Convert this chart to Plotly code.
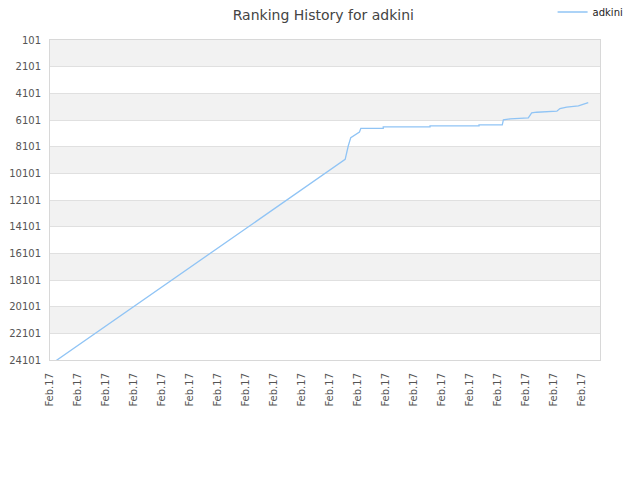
import plotly.graph_objects as go

# data (x = sample index, y = rank)
x_idx = [2, 100, 105.4, 106.5, 107.4, 110.5, 111, 119, 119, 135.7, 135.7, 153.2, 153.2,
         161.5, 161.9, 164.3, 170.8, 172, 173.8, 181, 182.1, 184.5, 188.7, 192.2]
ranks = [24174, 9860, 9055, 8050, 7422, 7000, 6722, 6722, 6622, 6622, 6546, 6546, 6470,
         6470, 6094, 6020, 5944, 5567, 5518, 5443, 5240, 5140, 5040, 4790]
tick_pos = [0, 10, 20, 30, 40, 50, 60, 70, 80, 90, 100, 110, 120, 130, 140, 150, 160, 170, 180, 190]
tick_text = ["Feb.17"] * 20
y_ticks = [101, 2101, 4101, 6101, 8101, 10101, 12101, 14101, 16101, 18101, 20101, 22101, 24101]
series_name = "adkini"

fig = go.Figure()
fig.add_trace(go.Scatter(x=x_idx, y=ranks, mode="lines", name=series_name,
                         line=dict(color="#90c4f5", width=1.3)))

shapes = []
for i in range(0, len(y_ticks) - 1, 2):
    shapes.append(dict(type="rect", xref="paper", yref="y", x0=0, x1=1,
                       y0=y_ticks[i], y1=y_ticks[i + 1], fillcolor="#f2f2f2",
                       line=dict(width=0), layer="below"))

fig.update_layout(
    width=640, height=480,
    margin=dict(l=42, r=48, t=32, b=128, autoexpand=False),
    paper_bgcolor="white", plot_bgcolor="white",
    title=dict(text="Ranking History for adkini", x=0.497, xanchor="center", xref="paper",
               y=0.9955, yanchor="top", yref="container", pad=dict(t=0, b=0),
               font=dict(family="DejaVu Sans", size=14, color="#444")),
    showlegend=True,
    legend=dict(x=1.052, xanchor="right", y=1.0875, yanchor="middle", yref="paper",
                font=dict(family="DejaVu Sans", size=10, color="#222"), bgcolor="rgba(0,0,0,0)",
                itemwidth=30),
    shapes=shapes,
    font=dict(family="DejaVu Sans"),
)
fig.update_xaxes(range=[0, 196.4], tickmode="array", tickvals=tick_pos, ticktext=tick_text,
                 tickangle=-90, tickfont=dict(size=10, color="#555"), showgrid=False,
                 showline=True, linecolor="#d8d8d8", mirror=True, zeroline=False, ticks="",
                 automargin=False, ticklabelstandoff=8, ticklabeloverflow="allow")
fig.update_yaxes(range=[24101, 101], tickmode="array", tickvals=y_ticks,
                 ticktext=[str(v) for v in y_ticks],
                 tickfont=dict(size=10, color="#555"), showgrid=True, gridcolor="#e0e0e0",
                 showline=True, linecolor="#d8d8d8", mirror=True, zeroline=False, ticks="",
                 automargin=False, ticklabelstandoff=6, ticklabeloverflow="allow")

fig.write_html("out.html")
